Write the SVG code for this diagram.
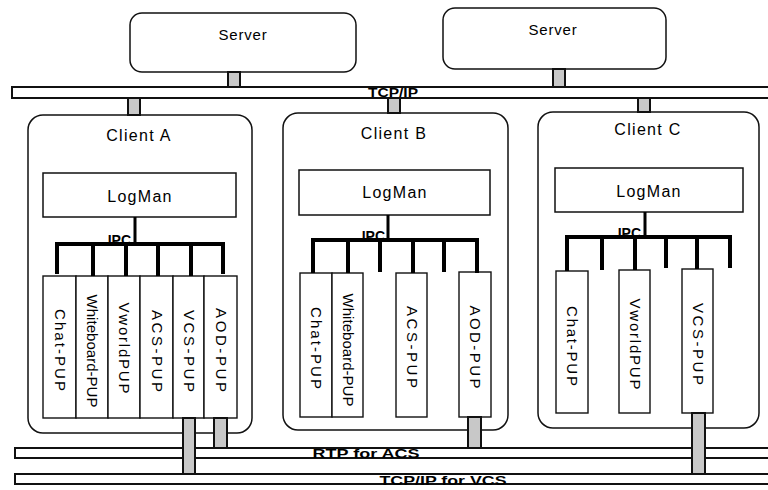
<svg xmlns="http://www.w3.org/2000/svg" width="768" height="490" viewBox="0 0 768 490">
<style>
.box{fill:#fff;stroke:#111;stroke-width:1.5}
.pup{fill:#fff;stroke:#111;stroke-width:1.4}
.bus{fill:#fff;stroke:#111;stroke-width:2}
.stub{fill:#c8c8c8;stroke:#111;stroke-width:2}
.ipc{fill:none;stroke:#000;stroke-width:4}
.vl{fill:none;stroke:#000;stroke-width:3}
text{font-family:"Liberation Sans",Arial,sans-serif;fill:#000}
.t16{font-size:16px;letter-spacing:1.3px}
.srv{font-size:15px;letter-spacing:0.8px}
.lbl{font-size:15px}
.b{font-size:14px;font-weight:bold}
.bl{font-size:12px;font-weight:bold}
</style>
<rect width="768" height="490" fill="#fff"/>

<g id="bus-tcpip">
<rect class="bus" x="12" y="87" width="770" height="11"/>
<text class="bl" x="393" y="97" text-anchor="middle" textLength="50" lengthAdjust="spacingAndGlyphs">TCP/IP</text>
</g>
<g id="bus-rtp">
<rect class="bus" x="15" y="448" width="770" height="10"/>
<text class="bl" x="366" y="458" text-anchor="middle" textLength="107" lengthAdjust="spacingAndGlyphs">RTP for ACS</text>
</g>
<g id="bus-tcpvcs">
<rect class="bus" x="15" y="474" width="770" height="10"/>
<text class="bl" x="443" y="485" text-anchor="middle" textLength="127" lengthAdjust="spacingAndGlyphs">TCP/IP for VCS</text>
</g>

<g id="server1">
<rect class="box" x="130" y="13" width="226" height="59" rx="12"/>
<text class="srv" x="243" y="40" text-anchor="middle">Server</text>
</g>
<g id="server2">
<rect class="box" x="443" y="8" width="223" height="61" rx="12"/>
<text class="srv" x="553" y="35" text-anchor="middle">Server</text>
</g>

<g id="clientA">
<rect class="box" x="28" y="115" width="224" height="318" rx="15"/>
<text class="t16" x="139" y="141" text-anchor="middle">Client A</text>
<g id="logmanA"><rect class="box" x="43" y="173" width="193" height="44"/>
<text class="t16" x="140" y="202" text-anchor="middle">LogMan</text></g>
<text class="b" x="131" y="245" text-anchor="end">IPC</text>
<g id="A-chat"><rect class="pup" x="43" y="276" width="33" height="142"/><text class="lbl" transform="translate(60,350) rotate(90)" text-anchor="middle" dy="5" textLength="82">Chat-PUP</text></g>
<g id="A-white"><rect class="pup" x="76" y="276" width="32" height="142"/><text class="lbl" transform="translate(92,351) rotate(90)" text-anchor="middle" dy="5" textLength="113">Whiteboard-PUP</text></g>
<g id="A-vworld"><rect class="pup" x="108" y="276" width="32" height="142"/><text class="lbl" transform="translate(124,348) rotate(90)" text-anchor="middle" dy="5" textLength="91">VworldPUP</text></g>
<g id="A-acs"><rect class="pup" x="140" y="276" width="33" height="142"/><text class="lbl" transform="translate(157,351) rotate(90)" text-anchor="middle" dy="5" textLength="82">ACS-PUP</text></g>
<g id="A-vcs"><rect class="pup" x="173" y="276" width="31" height="142"/><text class="lbl" transform="translate(189,351) rotate(90)" text-anchor="middle" dy="5" textLength="82">VCS-PUP</text></g>
<g id="A-aod"><rect class="pup" x="204" y="276" width="33" height="142"/><text class="lbl" transform="translate(221,350) rotate(90)" text-anchor="middle" dy="5" textLength="84">AOD-PUP</text></g>
</g>

<g id="clientB">
<rect class="box" x="283" y="113" width="225" height="317" rx="15"/>
<text class="t16" x="394" y="139" text-anchor="middle">Client B</text>
<g id="logmanB"><rect class="box" x="299" y="170" width="191" height="45"/>
<text class="t16" x="395" y="198" text-anchor="middle">LogMan</text></g>
<text class="b" x="385" y="241" text-anchor="end">IPC</text>
<g id="B-chat"><rect class="pup" x="300" y="273" width="32" height="144"/><text class="lbl" transform="translate(316,348) rotate(90)" text-anchor="middle" dy="5" textLength="82">Chat-PUP</text></g>
<g id="B-white"><rect class="pup" x="332" y="273" width="31" height="144"/><text class="lbl" transform="translate(348,350) rotate(90)" text-anchor="middle" dy="5" textLength="113">Whiteboard-PUP</text></g>
<g id="B-acs"><rect class="pup" x="396" y="273" width="31" height="144"/><text class="lbl" transform="translate(412,347) rotate(90)" text-anchor="middle" dy="5" textLength="82">ACS-PUP</text></g>
<g id="B-aod"><rect class="pup" x="459" y="272" width="32" height="145"/><text class="lbl" transform="translate(475,347) rotate(90)" text-anchor="middle" dy="5" textLength="83">AOD-PUP</text></g>
</g>

<g id="clientC">
<rect class="box" x="538" y="112" width="221" height="316" rx="15"/>
<text class="t16" x="648" y="135" text-anchor="middle">Client C</text>
<g id="logmanC"><rect class="box" x="555" y="168" width="188" height="44"/>
<text class="t16" x="649" y="197" text-anchor="middle">LogMan</text></g>
<text class="b" x="641" y="238" text-anchor="end">IPC</text>
<g id="C-chat"><rect class="pup" x="556" y="271" width="32" height="142"/><text class="lbl" transform="translate(572,346) rotate(90)" text-anchor="middle" dy="5" textLength="80">Chat-PUP</text></g>
<g id="C-vworld"><rect class="pup" x="619" y="270" width="31" height="143"/><text class="lbl" transform="translate(635,344) rotate(90)" text-anchor="middle" dy="5" textLength="91">VworldPUP</text></g>
<g id="C-vcs"><rect class="pup" x="682" y="269" width="31" height="144"/><text class="lbl" transform="translate(698,344) rotate(90)" text-anchor="middle" dy="5" textLength="82">VCS-PUP</text></g>
</g>

<g id="connectors">
<path class="vl" d="M135,217V244M388,215V240M645,212V237"/>
<path class="ipc" d="M57,274V244H223V274M93,244V276M126,244V276M158,244V276M191,244V276"/>
<path class="ipc" d="M313,273V240H477V273M348,240V273M380,240V272M413,240V273M444,240V272"/>
<path class="ipc" d="M567,271V237H730V268M602,237V270M635,237V270M666,237V268M697,237V269"/>
<rect class="stub" x="228" y="72" width="12" height="15"/>
<rect class="stub" x="553" y="69" width="12" height="18"/>
<rect class="stub" x="128" y="98" width="12" height="17"/>
<rect class="stub" x="388" y="98" width="12" height="15"/>
<rect class="stub" x="638" y="98" width="12" height="14"/>
<rect class="stub" x="183" y="418" width="12" height="56"/>
<rect class="stub" x="214" y="418" width="13" height="30"/>
<rect class="stub" x="468" y="417" width="13" height="31"/>
<rect class="stub" x="692" y="413" width="13" height="61"/>
</g>
</svg>
